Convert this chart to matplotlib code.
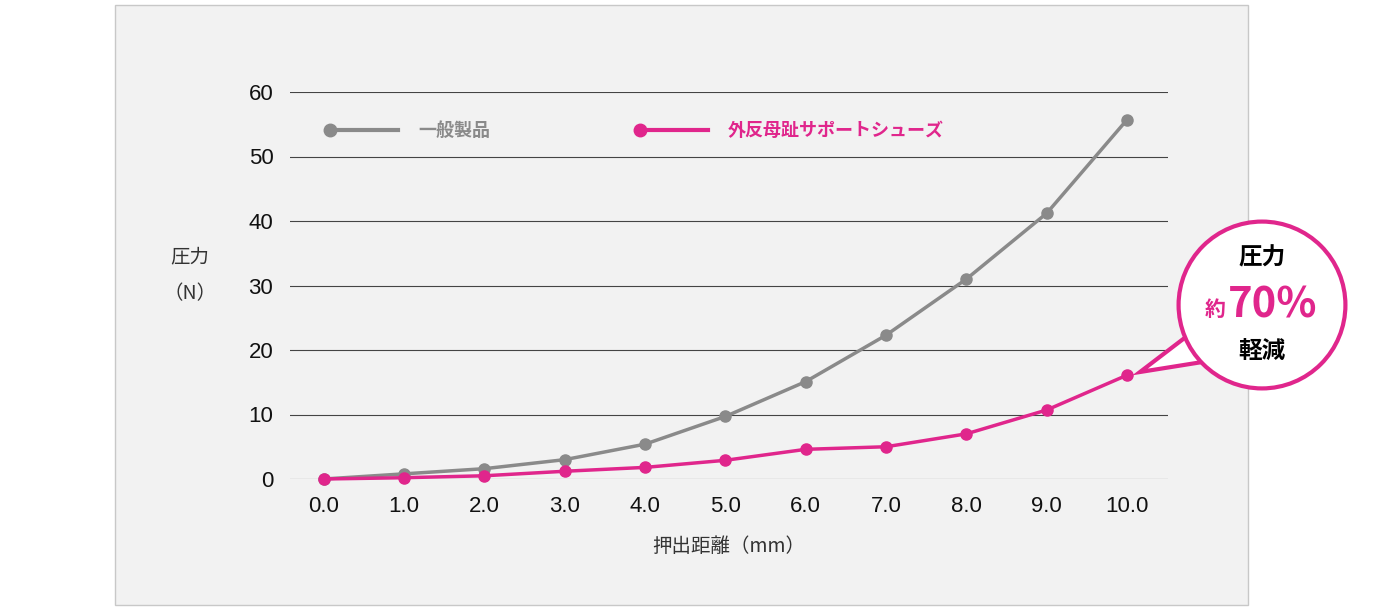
import matplotlib.pyplot as plt
from matplotlib.lines import Line2D
from matplotlib.patches import Circle, Polygon, Rectangle

plt.rcParams["font.family"] = "Noto Sans CJK JP"

distance = [0, 1, 2, 3, 4, 5, 6, 7, 8, 9, 10]
normal = [0, 0.8, 1.6, 3.0, 5.4, 9.7, 15.1, 22.3, 31.0, 41.2, 55.7]
support = [0, 0.2, 0.5, 1.2, 1.8, 2.9, 4.6, 5.0, 7.0, 10.7, 16.1]
y_ticks = [0, 10, 20, 30, 40, 50, 60]

GRAY = "#8a8a8a"
PINK = "#e0268c"

W, H = 1375, 612
fig = plt.figure(figsize=(W / 100, H / 100), dpi=100)
fig.patches.append(Rectangle((115 / W, 1 - 605 / H), 1133 / W, 600 / H,
                             transform=fig.transFigure, facecolor="#f2f2f2",
                             edgecolor="#c8c8c8", lw=1, zorder=-5))

ax = fig.add_axes([290 / W, 1 - 479 / H, 878 / W, 387 / H])
ax.set_facecolor("none")
ax.plot(distance, normal, color=GRAY, lw=2.5, marker="o", ms=8, clip_on=False)
ax.plot(distance, support, color=PINK, lw=2.5, marker="o", ms=8, clip_on=False)
ax.set_xlim(-0.42, 10.51)
ax.set_ylim(0, 60)
ax.set_yticks(y_ticks)
ax.set_xticks(distance)
ax.set_xticklabels([f"{d:.1f}" for d in distance])
ax.grid(axis="y", color="#444444", lw=0.8)
for s in ax.spines.values():
    s.set_visible(False)
ax.tick_params(length=0, labelsize=16, pad=12, labelcolor="#111111")
for lab in ax.get_xticklabels() + ax.get_yticklabels():
    lab.set_fontfamily("Liberation Sans")
ax.set_axisbelow(True)
ax.set_xlabel("押出距離（mm）", fontsize=14, labelpad=14, color="#333333")
fig.text(190 / W, 1 - 275 / H, "圧力\n（N）", ha="center", va="center",
         fontsize=14, color="#333333", linespacing=2.0)

# legend
for x0, col, label in [(330, GRAY, "一般製品"), (640, PINK, "外反母趾サポートシューズ")]:
    fig.add_artist(Line2D([x0 / W, (x0 + 68) / W], [1 - 130 / H] * 2, color=col,
                          lw=3, marker="o", ms=9, markevery=[0],
                          transform=fig.transFigure))
    fig.text((x0 + 88) / W, 1 - 130 / H, label, color=col, fontsize=13,
             fontweight="bold", va="center")

# callout bubble
fig.patches.append(Polygon([(1140 / W, 1 - 372 / H), (1195 / W, 1 - 330 / H),
                            (1215 / W, 1 - 360 / H)], closed=True,
                           transform=fig.transFigure, facecolor="white",
                           edgecolor=PINK, lw=3, zorder=5))
circ_ax = fig.add_axes([(1262 - 86) / W, 1 - (305 + 86) / H, 172 / W, 172 / H])
circ_ax.set_xlim(-1, 1)
circ_ax.set_ylim(-1, 1)
circ_ax.set_aspect("equal")
circ_ax.axis("off")
circ_ax.set_zorder(6)
circ_ax.add_patch(Circle((0, 0), 0.97, facecolor="white", edgecolor=PINK, lw=3))
circ_ax.text(0, 0.55, "圧力", ha="center", va="center", fontsize=17, fontweight="bold")
circ_ax.text(-0.55, -0.05, "約", ha="center", va="center", fontsize=15, color=PINK, fontweight="bold")
circ_ax.text(0.12, 0.0, "70%", ha="center", va="center", fontsize=30, color=PINK, fontweight="bold")
circ_ax.text(0, -0.55, "軽減", ha="center", va="center", fontsize=17, fontweight="bold")

fig.savefig("out.png", dpi=100)
